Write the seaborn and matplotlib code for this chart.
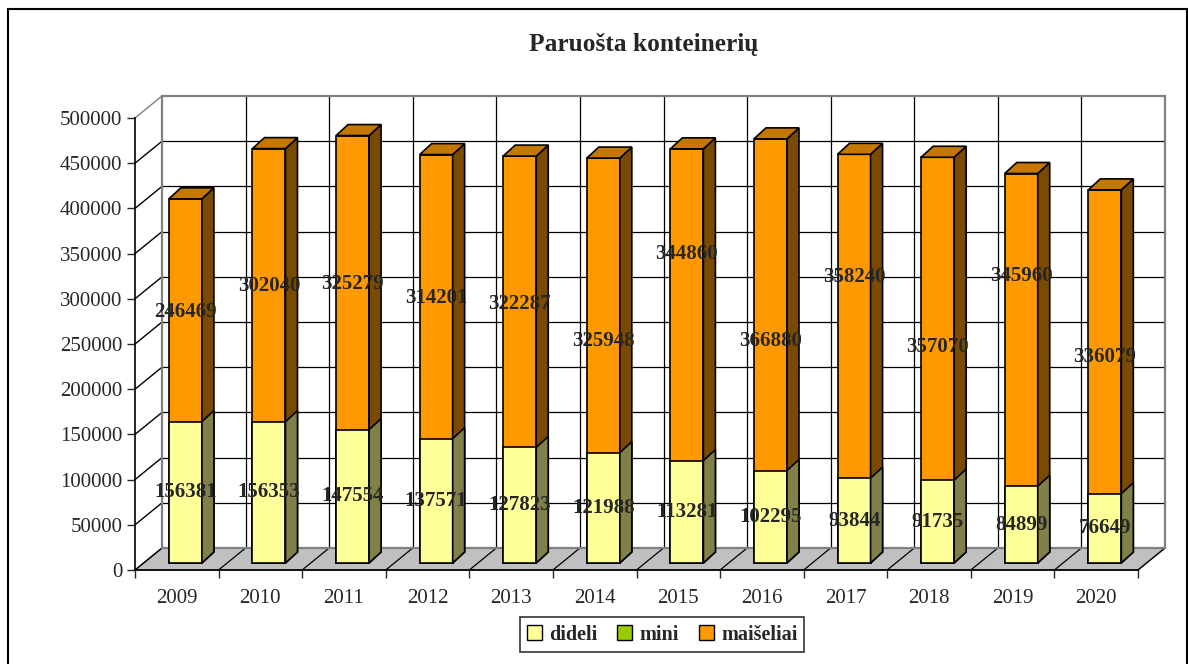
import numpy as np
import pandas as pd
import matplotlib
matplotlib.use("Agg")
import matplotlib.pyplot as plt
import seaborn as sns
from matplotlib.patches import Polygon, Rectangle, Patch
from matplotlib.transforms import Affine2D

# ---------------- data ----------------
years = ["2009", "2010", "2011", "2012", "2013", "2014",
         "2015", "2016", "2017", "2018", "2019", "2020"]
dideli = [156381, 156353, 147554, 137571, 127823, 121988,
          113281, 102295, 93844, 91735, 84899, 76649]
mini = [0, 0, 0, 0, 0, 0, 0, 0, 0, 0, 0, 0]
maiseliai = [246469, 302040, 325279, 314201, 322287, 325948,
             344860, 366880, 358240, 357070, 345960, 336079]
series_names = ["dideli", "mini", "maišeliai"]
title = "Paruošta konteinerių"
# vertical placement of the "maišeliai" value labels (manually placed in source)
mais_label_pos = [277700, 306400, 308600, 293100, 286500, 245600,
                  341800, 245600, 316400, 238900, 317500, 227900]
y_ticks = list(range(0, 500001, 50000))

# ---------------- style ----------------
YELLOW, YELLOW_SIDE = "#FFFF99", "#808048"
GREEN = "#99CC00"
ORANGE, ORANGE_SIDE, ORANGE_TOP = "#FF9900", "#7A4A00", "#C47800"
FLOOR = "#C0C0C0"

sns.set_style("white")
plt.rcParams["font.family"] = ["Liberation Serif", "DejaVu Serif"]

W, H = 1188, 664
fig = plt.figure(figsize=(W / 100, H / 100), dpi=100)
ax = fig.add_axes([135 / W, (H - 570) / H, (1138 - 135) / W, (570 - 118) / H])

df = pd.DataFrame({"year": years, "dideli": dideli, "mini": mini,
                   "maiseliai": maiseliai})
df["total"] = df["dideli"] + df["mini"] + df["maiseliai"]

BW = 0.395
sns.barplot(data=df, x="year", y="total", color=ORANGE, width=BW,
            edgecolor="black", linewidth=1.2, saturation=1, errorbar=None,
            ax=ax, zorder=3)
sns.barplot(data=df, x="year", y="dideli", color=YELLOW, width=BW,
            edgecolor="black", linewidth=1.2, saturation=1, errorbar=None,
            ax=ax, zorder=3.5)

ax.set_xlim(-0.5, 11.5)
ax.set_ylim(0, 500000)

# pseudo-3D geometry (in data units)
px_x = (1138 - 135) / 12.0
px_y = 500000 / 452.0
DX, DY = 27 / px_x, 22 * px_y          # wall depth
SX, SY = 8.6 / px_x, 7 * px_y          # bar front offset into depth
BX, BY = 12 / px_x, 11 * px_y          # bar depth
shift = Affine2D().translate(SX, SY) + ax.transData

n = len(years)
bars = list(ax.patches)
for k, p in enumerate(bars):
    p.set_transform(shift)
    p.set_clip_on(False)
    x0, y0, w, h = p.get_x(), p.get_y(), p.get_width(), p.get_height()
    is_orange = k < n
    side = Polygon([(x0 + w, y0), (x0 + w + BX, y0 + BY),
                    (x0 + w + BX, y0 + h + BY), (x0 + w, y0 + h)],
                   closed=True, fc=ORANGE_SIDE if is_orange else YELLOW_SIDE,
                   ec="black", lw=1.2, transform=shift, clip_on=False,
                   zorder=3 if is_orange else 3.5)
    ax.add_patch(side)
    if is_orange:
        top = Polygon([(x0, y0 + h), (x0 + w, y0 + h),
                       (x0 + w + BX, y0 + h + BY), (x0 + BX, y0 + h + BY)],
                      closed=True, fc=ORANGE_TOP, ec="black", lw=1.2,
                      transform=shift, clip_on=False, zorder=3)
        ax.add_patch(top)

# floor
x_left, x_right = -0.5, 11.5
floor = Polygon([(x_left, 0), (x_right, 0), (x_right + DX, DY), (x_left + DX, DY)],
                closed=True, fc=FLOOR, ec="#404040", lw=0.9, clip_on=False, zorder=1)
ax.add_patch(floor)
for k in range(1, n + 1):
    xb = x_left + k
    ax.plot([xb, xb + DX], [0, DY], color="black", lw=0.9, clip_on=False, zorder=1.2)

# back wall grid
for t in y_ticks[1:-1]:
    ax.plot([x_left + DX, x_right + DX], [t + DY, t + DY], color="black",
            lw=0.9, clip_on=False, zorder=1.1)
for k in range(1, n):
    xb = x_left + k + DX
    ax.plot([xb, xb], [DY, y_ticks[-1] + DY], color="black", lw=0.9,
            clip_on=False, zorder=1.1)
ax.add_patch(Rectangle((x_left + DX, DY), x_right - x_left, y_ticks[-1],
                       fill=False, ec="#808080", lw=1.6, clip_on=False, zorder=1.3))
# left wall lines
for t in y_ticks:
    ax.plot([x_left, x_left + DX], [t, t + DY],
            color="#808080" if t == y_ticks[-1] else "black",
            lw=1.0, clip_on=False, zorder=1.1)

# axes styling
for s in ["top", "right"]:
    ax.spines[s].set_visible(False)
for s in ["left", "bottom"]:
    ax.spines[s].set_color("black")
    ax.spines[s].set_linewidth(1.2)
    ax.spines[s].set_zorder(2)
ax.set_yticks(y_ticks)
ax.set_yticklabels([str(t) for t in y_ticks])
ax.set_xticks(range(n))
ax.set_xticklabels(years)
ax.set_xticks([x_left + k for k in range(n + 1)], minor=True)
ax.tick_params(axis="y", length=6, width=1, direction="out", pad=3,
               labelsize=15, left=True)
ax.tick_params(axis="x", which="major", length=0, pad=13.5, labelsize=15)
ax.tick_params(axis="x", which="minor", length=6, width=1, direction="out",
               bottom=True)
ax.set_xlabel("")
ax.set_ylabel("")
ax.grid(False)

# value labels
for i in range(n):
    ax.text(i, dideli[i] / 2, str(dideli[i]), transform=shift, ha="center",
            va="center", fontsize=15, fontweight="bold", zorder=6, clip_on=False)
    ax.text(i, mais_label_pos[i], str(maiseliai[i]), transform=shift, ha="center",
            va="center", fontsize=15, fontweight="bold", zorder=6, clip_on=False)

# title
fig.text(644 / W, 1 - 45 / H, title, ha="center", va="center",
         fontsize=18.3, fontweight="bold")

# legend
handles = [Patch(fc=c, ec="black", lw=1) for c in (YELLOW, GREEN, ORANGE)]
leg = fig.legend(handles, series_names, loc="center",
                 bbox_to_anchor=(662 / W, 1 - 634.5 / H), ncol=3,
                 frameon=True, fancybox=False, edgecolor="black",
                 handlelength=0.75, handleheight=0.75, handletextpad=0.35,
                 columnspacing=1.0, borderpad=0.35,
                 prop={"weight": "bold", "size": 14.5})
leg.get_frame().set_linewidth(1.2)

# outer chart border
fig.add_artist(Rectangle((8 / W, -0.02), (1186.5 - 8) / W, 1 - 9 / H + 0.02,
                         transform=fig.transFigure, fill=False, ec="black", lw=1.5))

fig.savefig("out.png", dpi=100)
